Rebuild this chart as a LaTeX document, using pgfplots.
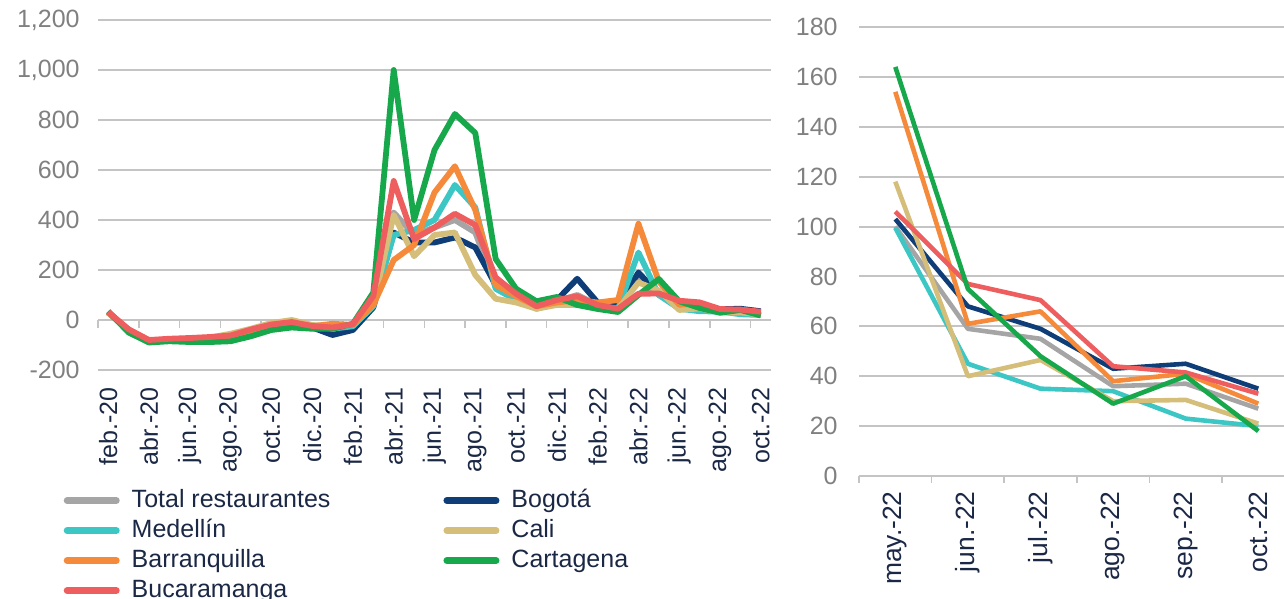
\documentclass[border=0pt]{standalone}
\usepackage{pgfplots}
\pgfplotsset{compat=1.18}
\usepackage{pgfplotstable}
\usepackage{fontspec}
\setmainfont{Liberation Sans}

\definecolor{cTot}{HTML}{A5A5A5}
\definecolor{cBog}{HTML}{0E3D78}
\definecolor{cMed}{HTML}{3CC6C4}
\definecolor{cCal}{HTML}{D5BE7A}
\definecolor{cBar}{HTML}{F58A3B}
\definecolor{cCar}{HTML}{16A84B}
\definecolor{cBuc}{HTML}{EE5E5E}
\definecolor{gridc}{HTML}{C4C4C4}
\definecolor{ytxt}{HTML}{808080}
\definecolor{xtxt}{HTML}{1B2845}

% monthly series, feb-20 .. oct-22
\pgfplotstableread{
i tot bog med cal bar car buc
0 30 30 30 30 30 35 32
1 -40 -40 -40 -38 -40 -50 -37
2 -85 -88 -85 -82 -85 -90 -80
3 -80 -82 -80 -78 -80 -85 -75
4 -78 -80 -80 -75 -78 -88 -72
5 -75 -78 -78 -70 -75 -88 -68
6 -68 -72 -70 -55 -68 -85 -62
7 -50 -55 -50 -35 -50 -65 -38
8 -25 -35 -28 -12 -25 -40 -18
9 -10 -20 -15 0 -12 -30 -8
10 -25 -30 -25 -20 -25 -35 -24
11 -35 -60 -35 -25 -15 -35 -30
12 -25 -40 -25 -20 -20 -15 -17
13 65 50 55 60 60 110 96
14 430 350 340 420 240 1000 556
15 340 310 360 255 300 400 324
16 370 310 400 340 510 680 370
17 400 330 540 350 615 824 425
18 350 290 450 180 440 748 380
19 130 140 125 85 140 244 170
20 85 90 80 70 95 125 105
21 55 60 45 45 55 75 55
22 75 80 65 60 70 92 80
23 100 165 90 60 80 60 95
24 60 70 50 55 70 44 60
25 50 55 45 45 80 32 45
26 170 190 270 150 385 100 105
27 100 103 99.5 118 154 164 106
28 59 68 45 40 61 75 77
29 55 59 35 46.5 66 48 70.5
30 36 43 34 30 38 29 44
31 37 45 23 30.5 41 40 41.5
32 27 35 20 21 29 18 33
}\leftdata

% may-22 .. oct-22
\pgfplotstableread{
i tot bog med cal bar car buc
0 100 103 99.5 118 154 164 106
1 59 68 45 40 61 75 77
2 55 59 35 46.5 66 48 70.5
3 36 43 34 30 38 29 44
4 37 45 23 30.5 41 40 41.5
5 27 35 20 21 29 18 33
}\rightdata

\newcommand{\tfont}{\fontsize{12.5}{15}\selectfont}

\pgfplotsset{
  tickstrip/.style={anchor=south west, scale only axis, ymin=0, ymax=1,
    ytick=\empty, xticklabels={}, axis line style={draw=none},
    major tick length=0pt, xmajorgrids,
    major grid style={gridc, line width=0.8pt}},
}

\begin{document}
\begin{tikzpicture}
\path[use as bounding box] (0,0) rectangle (642pt,299.5pt);

% tick marks hanging below the zero line, left panel
\begin{axis}[tickstrip, at={(49pt,135.5pt)}, width=336.5pt, height=4pt,
  xmin=-0.5, xmax=32.5, xtick={-0.5,1.5,...,31.5}]
\addplot[draw=none, forget plot] coordinates {(0,0.5)};
\end{axis}

% tick marks below the right panel
\begin{axis}[tickstrip, at={(429.5pt,58pt)}, width=212.5pt, height=3.5pt,
  xmin=-0.5, xmax=5.354, xtick={-0.5,0.5,...,4.5}]
\addplot[draw=none, forget plot] coordinates {(0,0.5)};
\end{axis}

\begin{axis}[at={(49pt,114.5pt)}, anchor=south west, scale only axis,
  width=336.5pt, height=175pt,
  xmin=-0.5, xmax=32.5, ymin=-200, ymax=1200,
  xtick={0,2,...,32},
  xticklabels={feb.-20,abr.-20,jun.-20,ago.-20,oct.-20,dic.-20,feb.-21,abr.-21,jun.-21,ago.-21,oct.-21,dic.-21,feb.-22,abr.-22,jun.-22,ago.-22,oct.-22},
  ytick={-200,0,...,1200},
  yticklabels={-200,0,200,400,600,800,{1,000},{1,200}},
  axis line style={draw=none}, major tick length=0pt,
  ymajorgrids, major grid style={gridc, line width=1pt},
  xticklabel style={rotate=90, anchor=east, inner sep=0pt, text=xtxt, font=\tfont},
  xticklabel shift=8.5pt,
  yticklabel style={inner sep=0pt, text=ytxt, font=\tfont},
  yticklabel shift=9pt,
  every axis plot/.append style={line width=2.9pt, line join=round, no marks},
  legend columns=2, legend cell align=left,
  legend image code/.code={\draw[#1, line width=3.4pt, line cap=round] (1.7pt,0pt) -- (26.3pt,0pt);},
  legend style={at={(axis description cs:-0.0515,-0.339)}, anchor=north west,
    draw=none, fill=none, inner sep=0pt, font=\tfont, text=xtxt,
    nodes={inner sep=0pt, text height=9pt, text depth=2.5pt},
    row sep=3.5pt,
    /tikz/every odd column/.append style={column sep=6pt},
    /tikz/every even column/.append style={column sep=56.5pt}},
]
\addplot[cTot] table[x=i, y=tot] {\leftdata};
\addlegendentry{Total restaurantes}
\addplot[cBog] table[x=i, y=bog] {\leftdata};
\addlegendentry{Bogotá}
\addplot[cMed] table[x=i, y=med] {\leftdata};
\addlegendentry{Medellín}
\addplot[cCal] table[x=i, y=cal] {\leftdata};
\addlegendentry{Cali}
\addplot[cBar] table[x=i, y=bar] {\leftdata};
\addlegendentry{Barranquilla}
\addplot[cCar] table[x=i, y=car] {\leftdata};
\addlegendentry{Cartagena}
\addplot[cBuc] table[x=i, y=buc] {\leftdata};
\addlegendentry{Bucaramanga}
\end{axis}

\begin{axis}[at={(429.5pt,61.5pt)}, anchor=south west, scale only axis,
  width=212.5pt, height=224.5pt,
  xmin=-0.5, xmax=5.354, ymin=0, ymax=180,
  xtick={0,...,5},
  xticklabels={may.-22,jun.-22,jul.-22,ago.-22,sep.-22,oct.-22},
  ytick={0,20,...,180},
  yticklabels={0,20,40,60,80,100,120,140,160,180},
  axis x line*=bottom, axis y line*=left,
  x axis line style={gridc, line width=1pt},
  y axis line style={draw=none},
  major tick length=0pt,
  ymajorgrids, major grid style={gridc, line width=1pt},
  xticklabel style={rotate=90, anchor=east, inner sep=0pt, text=xtxt, font=\fontsize{13.2}{15}\selectfont},
  xticklabel shift=7.5pt,
  yticklabel style={inner sep=0pt, text=ytxt, font=\tfont},
  yticklabel shift=10.5pt,
  every axis plot/.append style={line width=2.3pt, line join=round, no marks},
]
\addplot[cTot] table[x=i, y=tot] {\rightdata};
\addplot[cBog] table[x=i, y=bog] {\rightdata};
\addplot[cMed] table[x=i, y=med] {\rightdata};
\addplot[cCal] table[x=i, y=cal] {\rightdata};
\addplot[cBar] table[x=i, y=bar] {\rightdata};
\addplot[cBuc] table[x=i, y=buc] {\rightdata};
\addplot[cCar] table[x=i, y=car] {\rightdata};
\end{axis}
\end{tikzpicture}
\end{document}
